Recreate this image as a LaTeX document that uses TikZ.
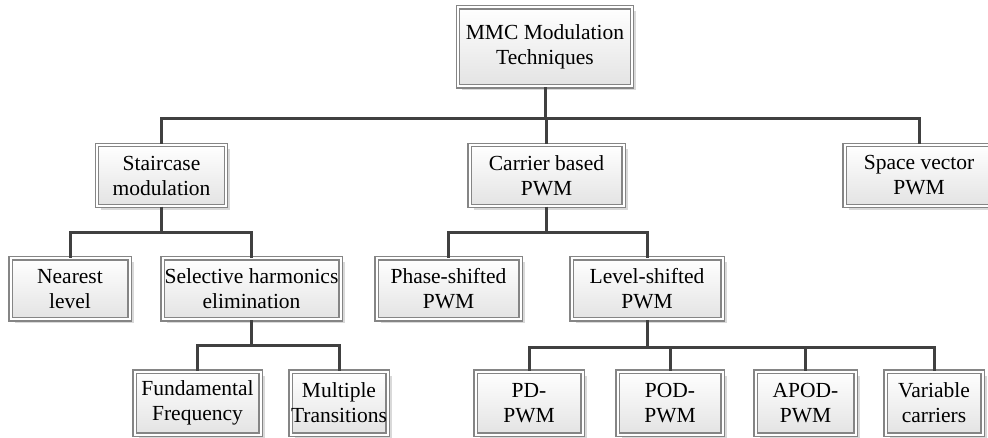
\documentclass[tikz,border=0pt]{standalone}
\usepackage{fontspec}
\setmainfont{Liberation Serif}
\usetikzlibrary{shadows}

\tikzset{
  box/.style={
    draw=black!48, line width=1.1pt,
    double=white, double distance=2pt,
    top color=white, bottom color=black!11,
    drop shadow={shadow xshift=4pt, shadow yshift=-4pt, fill=black!15, opacity=1},
    align=center, inner sep=0pt, text=black,
    font=\rmfamily\fontsize{21.5}{25}\selectfont
  },
  midbox/.style={box, minimum height=61pt},
  lowbox/.style={box, minimum height=63pt},
  conn/.style={draw=black!75, line width=3pt, line join=miter}
}

\begin{document}
\begin{tikzpicture}[x=1pt, y=-1pt]
  \useasboundingbox (0,0) rectangle (988,438);
  \clip (0,0) rectangle (988,438);
  \fill[white] (0,0) rectangle (988,438);

  % horizontal bus level of each branch
  \coordinate (busA) at (0,119);
  \coordinate (busB) at (0,233);
  \coordinate (busC) at (0,345);
  \coordinate (busD) at (0,347);

  % boxes
  \node[box, minimum width=174pt, minimum height=79pt] (root) at (545,47) {MMC Modulation\\Techniques};

  \node[midbox, minimum width=129pt] (stair)   at (161.5,175.5) {Staircase\\modulation};
  \node[midbox, minimum width=154pt] (carrier) at (546.5,175.5) {Carrier based\\PWM};
  \node[midbox, minimum width=149pt] (space)   at (919,175.5)   {Space vector\\PWM};

  \node[midbox, minimum width=119pt] (nearest)   at (70,289)    {Nearest\\level};
  \node[midbox, minimum width=178pt] (selective) at (251.5,289) {Selective harmonics\\elimination};
  \node[midbox, minimum width=144pt] (phase)     at (448.5,289) {Phase-shifted\\PWM};
  \node[midbox, minimum width=151pt] (level)     at (647,289)   {Level-shifted\\PWM};

  \node[lowbox, minimum width=126pt] (fund)     at (197.5,403) {Fundamental\\Frequency};
  \node[lowbox, minimum width=97pt]  (multiple) at (339,403)   {Multiple\\Transitions};
  \node[lowbox, minimum width=107pt] (pd)       at (529,403)   {PD-\\PWM};
  \node[lowbox, minimum width=105pt] (pod)      at (670,403)   {POD-\\PWM};
  \node[lowbox, minimum width=100pt] (apod)     at (805.5,403) {APOD-\\PWM};
  \node[lowbox, minimum width=97pt]  (variable) at (934,403)   {Variable\\carriers};

  % connectors
  \draw[conn] (root.south) -- (root.south |- busA) -| (stair.north);
  \draw[conn] (root.south |- busA) -| (carrier.north);
  \draw[conn] (root.south |- busA) -| (space.north);

  \draw[conn] (stair.south) -- (stair.south |- busB) -| (nearest.north);
  \draw[conn] (stair.south |- busB) -| (selective.north);

  \draw[conn] (carrier.south) -- (carrier.south |- busB) -| (phase.north);
  \draw[conn] (carrier.south |- busB) -| (level.north);

  \draw[conn] (selective.south) -- (selective.south |- busC) -| (fund.north);
  \draw[conn] (selective.south |- busC) -| (multiple.north);

  \draw[conn] (level.south) -- (level.south |- busD) -| (pd.north);
  \draw[conn] (level.south |- busD) -| (pod.north);
  \draw[conn] (level.south |- busD) -| (apod.north);
  \draw[conn] (level.south |- busD) -| (variable.north);
\end{tikzpicture}
\end{document}
